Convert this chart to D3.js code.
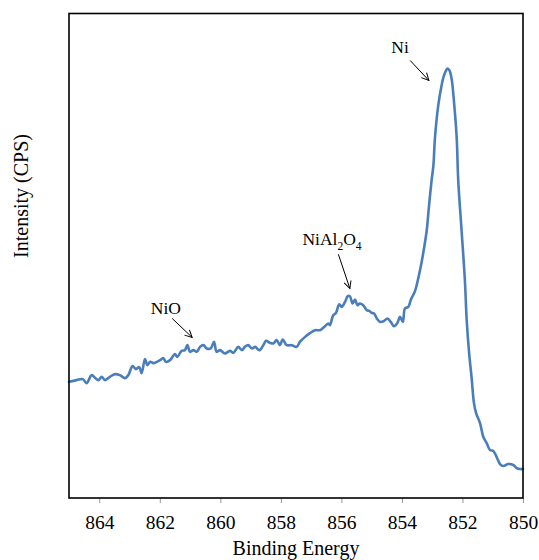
<!DOCTYPE html>
<html>
<head>
<meta charset="utf-8">
<script src="https://cdn.jsdelivr.net/npm/d3@7"></script>
<style>
  html, body { margin: 0; padding: 0; background: #fff; }
  svg { display: block; }
  text { font-family: "Liberation Serif", "Times New Roman", serif; fill: #000; }
</style>
</head>
<body>
<svg id="chart" width="539" height="560"></svg>
<script>
// ---- data ----
const bindingEnergy = [
  865.00, 864.75, 864.54, 864.42, 864.25, 864.14, 864.03, 863.92, 863.81, 863.65,
  863.48, 863.32, 863.15, 863.04, 862.90, 862.79, 862.68, 862.60, 862.49, 862.41,
  862.32, 862.21, 862.10, 861.99, 861.88, 861.80, 861.66, 861.50, 861.42, 861.28,
  861.17, 861.09, 861.00, 860.89, 860.78, 860.67, 860.56, 860.45, 860.32, 860.21,
  860.12, 860.01, 859.85, 859.68, 859.57, 859.41, 859.29, 859.19, 859.08, 858.96,
  858.85, 858.71, 858.58, 858.49, 858.36, 858.25, 858.14, 858.03, 857.94, 857.81,
  857.64, 857.48, 857.37, 857.20, 857.04, 856.87, 856.71, 856.54, 856.43, 856.38,
  856.27, 856.18, 856.07, 855.99, 855.88, 855.79, 855.72, 855.63, 855.55, 855.47,
  855.39, 855.28, 855.16, 855.08, 855.00, 854.92, 854.83, 854.72, 854.59, 854.48,
  854.37, 854.26, 854.15, 854.06, 853.97, 853.90, 853.79, 853.70, 853.57, 853.46,
  853.35, 853.27, 853.18, 853.11, 853.02, 852.96, 852.91, 852.80, 852.69, 852.61,
  852.54, 852.49, 852.43, 852.36, 852.27, 852.19, 852.14, 852.03, 851.92, 851.86,
  851.78, 851.70, 851.62, 851.55, 851.42, 851.31, 851.20, 851.09, 850.98, 850.87,
  850.76, 850.65, 850.49, 850.32, 850.21, 850.10, 850.00
];
const intensity = [
  1163, 1180, 1190, 1150, 1230, 1203, 1180, 1213, 1180, 1213,
  1240, 1230, 1200, 1230, 1320, 1290, 1310, 1250, 1390, 1330,
  1363, 1350, 1363, 1380, 1400, 1363, 1380, 1440, 1413, 1473,
  1480, 1530, 1463, 1480, 1463, 1513, 1530, 1497, 1497, 1563,
  1463, 1480, 1447, 1473, 1453, 1513, 1480, 1513, 1530, 1497,
  1513, 1480, 1530, 1573, 1553, 1547, 1580, 1530, 1587, 1530,
  1530, 1513, 1563, 1613, 1650, 1680, 1680, 1720, 1747, 1730,
  1830, 1853, 1940, 1913, 1963, 2020, 2020, 1947, 1987, 1930,
  1947, 1930, 1880, 1873, 1853, 1847, 1797, 1763, 1773, 1797,
  1763, 1720, 1753, 1813, 1763, 1897, 1913, 1990, 2070, 2200,
  2360, 2500, 2680, 2910, 3180, 3330, 3600, 3930, 4130, 4230,
  4280, 4300, 4280, 4200, 3930, 3600, 3180, 2680, 2180, 1780,
  1450, 1210, 950, 850, 750, 610, 550, 480, 470, 410,
  340, 320, 340, 330, 300, 290, 290
];
const xTicks = [864, 862, 860, 858, 856, 854, 852, 850];
const xDomain = [865, 850];
const yDomain = [0, 4850];
const xTitle = "Binding Energy";
const yTitle = "Intensity (CPS)";

// annotations: label parts [text, isSubscript], text anchor, arrow start, arrow tip (data units)
const annLabels = [
  [["Ni", false]],
  [["NiAl", false], ["2", true], ["O", false], ["4", true]],
  [["NiO", false]]
];
const annText  = [[854.06, 4450], [856.31, 2530], [861.80, 1840]];
const annStart = [[853.73, 4380], [856.10, 2440], [861.59, 1797]];
const annTip   = [[853.11, 4180], [855.72, 2097], [860.93, 1607]];

// ---- layout ----
const svg = d3.select("#chart");
const mLeft = 69, mRight = 523, mTop = 13.5, mBottom = 498;

const x = d3.scaleLinear().domain(xDomain).range([mLeft, mRight]);
const y = d3.scaleLinear().domain(yDomain).range([mBottom, mTop]);

// ticks (below axis)
const xAxis = d3.axisBottom(x).tickValues(xTicks).tickSize(5).tickPadding(12)
  .tickFormat(d3.format("d"));
const gx = svg.append("g").attr("transform", `translate(0,${mBottom})`).call(xAxis);
gx.select(".domain").remove();
gx.selectAll(".tick line").attr("stroke", "#999").attr("stroke-width", 1);
gx.selectAll(".tick text")
  .style("font-family", '"Liberation Serif", "Times New Roman", serif')
  .style("font-size", "19.5px").attr("fill", "#000");

// line
const pts = bindingEnergy.map((e, i) => [e, intensity[i]]);
const line = d3.line().x(d => x(d[0])).y(d => y(d[1])).curve(d3.curveCatmullRom.alpha(0.5));
svg.append("path").datum(pts)
  .attr("d", line)
  .attr("fill", "none")
  .attr("stroke", "#4A7EBB")
  .attr("stroke-width", 2.6)
  .attr("stroke-linejoin", "round")
  .attr("stroke-linecap", "round");

// frame
svg.append("rect")
  .attr("x", mLeft).attr("y", mTop)
  .attr("width", mRight - mLeft).attr("height", mBottom - mTop)
  .attr("fill", "none").attr("stroke", "#000").attr("stroke-width", 1.6);

// arrow marker
svg.append("defs").append("marker")
  .attr("id", "arr").attr("viewBox", "0 0 10 10")
  .attr("refX", 9).attr("refY", 5)
  .attr("markerWidth", 9).attr("markerHeight", 9)
  .attr("markerUnits", "userSpaceOnUse")
  .attr("orient", "auto")
  .append("path").attr("d", "M1,1 L9,5 L1,9")
  .attr("fill", "none").attr("stroke", "#000").attr("stroke-width", 1.1);

annLabels.forEach((parts, i) => {
  svg.append("line")
    .attr("x1", x(annStart[i][0])).attr("y1", y(annStart[i][1]))
    .attr("x2", x(annTip[i][0])).attr("y2", y(annTip[i][1]))
    .attr("stroke", "#000").attr("stroke-width", 1)
    .attr("marker-end", "url(#arr)");
  const t = svg.append("text")
    .attr("x", x(annText[i][0])).attr("y", y(annText[i][1]))
    .attr("text-anchor", "middle")
    .style("font-size", "17.5px");
  let sub = false;
  parts.forEach(([s, isSub]) => {
    const ts = t.append("tspan").text(s);
    if (isSub && !sub) { ts.attr("dy", 5).style("font-size", "11.5px"); sub = true; }
    else if (isSub && sub) { ts.style("font-size", "11.5px"); }
    else if (!isSub && sub) { ts.attr("dy", -5); sub = false; }
  });
});

// axis titles
svg.append("text")
  .attr("x", (mLeft + mRight) / 2).attr("y", 555)
  .attr("text-anchor", "middle")
  .style("font-size", "20px")
  .text(xTitle);

svg.append("text")
  .attr("transform", "translate(28,196) rotate(-90)")
  .attr("text-anchor", "middle")
  .style("font-size", "20px")
  .text(yTitle);
</script>
</body>
</html>
